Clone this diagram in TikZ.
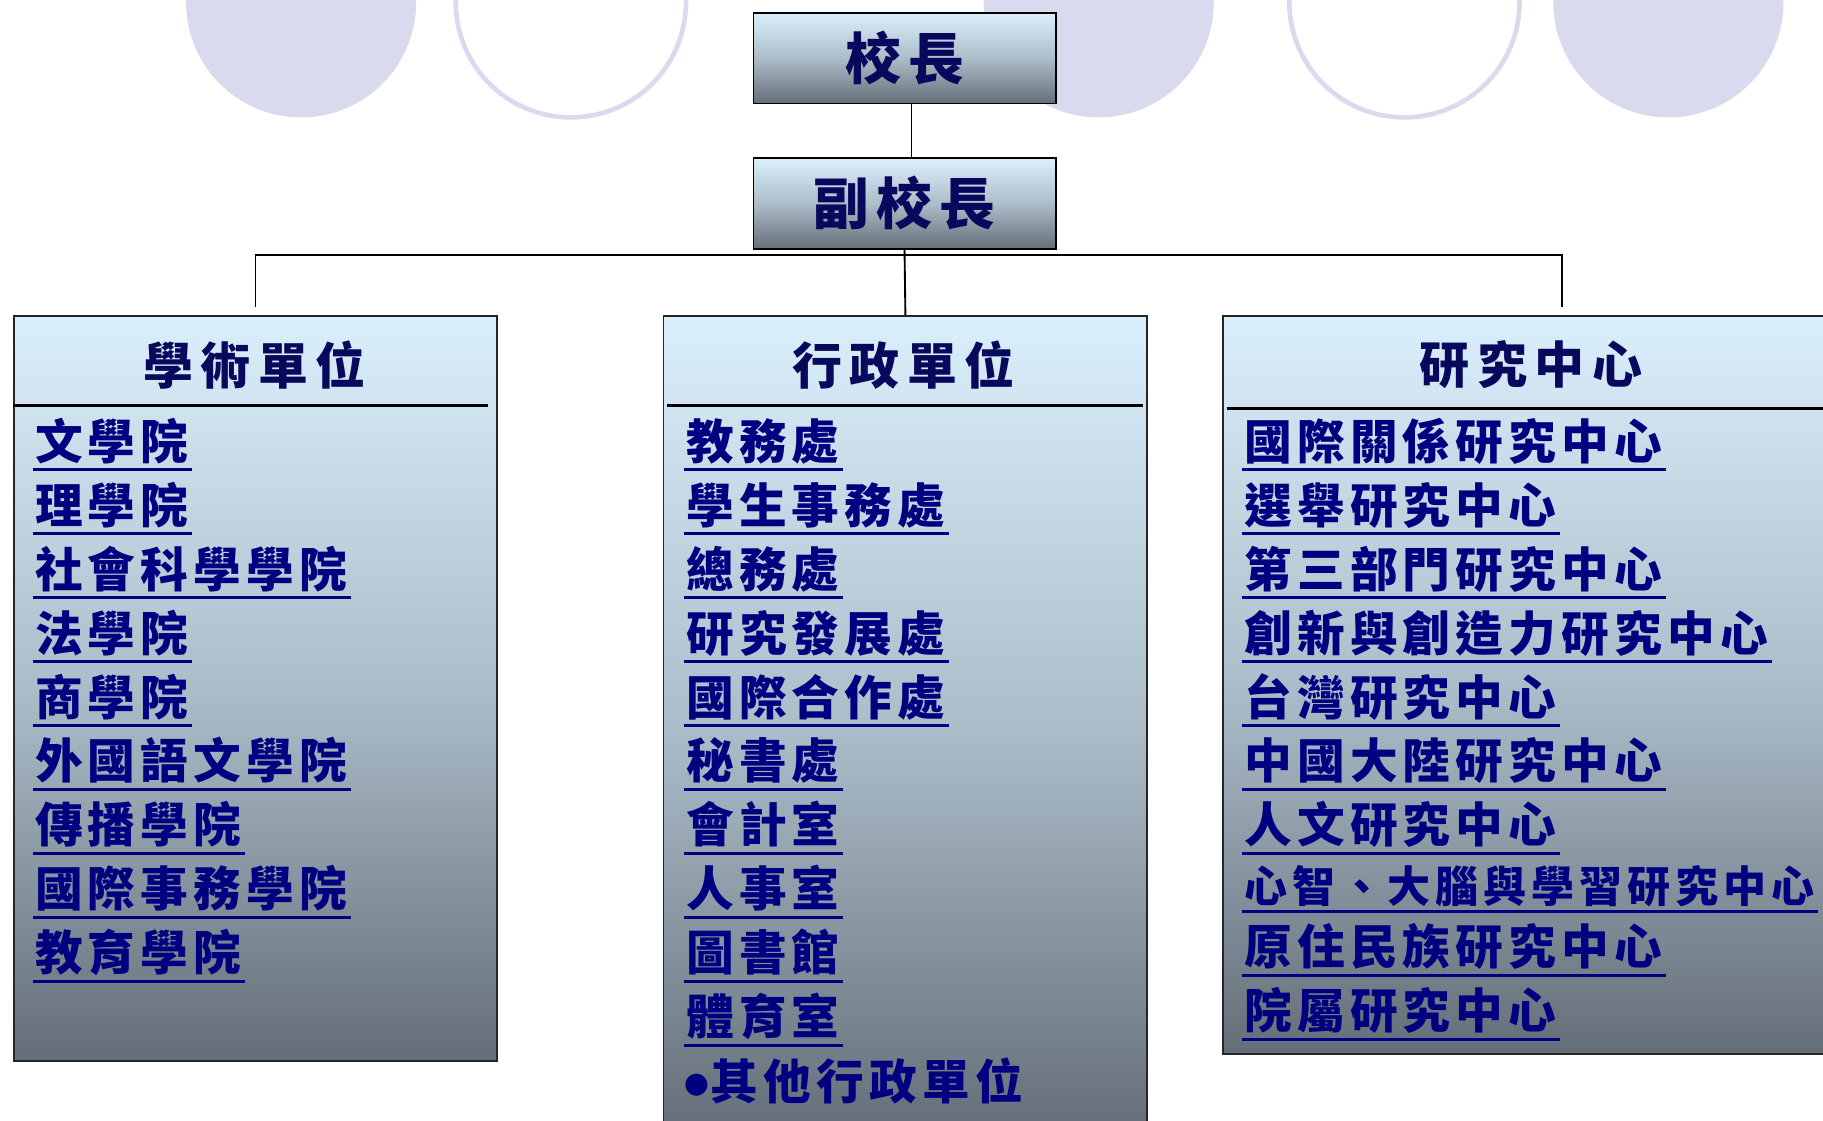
\documentclass[tikz,border=0pt]{standalone}
\usepackage{fontspec}
\newfontfamily\cjk{Noto Sans CJK TC}
\newfontfamily\lat{Liberation Sans}
\definecolor{navy}{RGB}{0,0,128}
\definecolor{deepnavy}{RGB}{8,8,92}
\definecolor{lav}{RGB}{218,218,238}
\definecolor{gtop}{RGB}{218,239,252}
\definecolor{gmid}{RGB}{172,189,201}
\definecolor{gbot}{RGB}{100,110,120}
\newdimen\mytrk
\def\spaced#1{\spacedA#1\relax}
\def\spacedA#1#2{#1\ifx#2\relax\else\hspace{\mytrk}\expandafter\spacedA\expandafter#2\fi}
\def\trkA{\mytrk=6pt\relax}
\def\trkB{\mytrk=6.5pt\relax}
\def\trkC{\mytrk=4.5pt\relax}
\def\trkD{\mytrk=4.2pt\relax}
\begin{document}
\begin{tikzpicture}[x=1pt,y=-1pt,
  pbox/.style={draw=black, line width=1.5pt, top color=gtop, bottom color=gbot, middle color=gmid,
    minimum width=260pt, minimum height=78pt, inner sep=0pt,
    font={\cjk\bfseries\fontsize{48}{48}\selectfont}, execute at begin node={\trkA}, text=deepnavy},
  panel/.style={draw=black!85, line width=1.5pt, top color=gtop, bottom color=gbot, middle color=gmid,
    inner sep=0pt, anchor=north west},
  head/.style={font={\cjk\bfseries\fontsize{43}{43}\selectfont}, execute at begin node={\trkB}, text=deepnavy, inner sep=0pt},
  item/.style={font={\cjk\bfseries\fontsize{41}{41}\selectfont}, execute at begin node={\trkC}, text=navy, inner sep=0pt, anchor=base west},
  smallitem/.style={font={\cjk\bfseries\fontsize{37}{37}\selectfont}, execute at begin node={\trkD}, text=navy, inner sep=0pt, anchor=base west},
  uline/.style={draw=navy, line width=2.6pt},
  sepline/.style={draw=black, line width=2.6pt},
  conn/.style={draw=black, line width=1.6pt},
  disk/.style={fill=lav},
  ring/.style={draw=lav, line width=4pt, fill=white}
]
\useasboundingbox (0,0) rectangle (1568,964);
\clip (0,0) rectangle (1568,964);
% decorative circles
\fill[disk] (259,2) circle (99);
\draw[ring] (491,2) circle (99);
\fill[disk] (945,2) circle (99);
\draw[ring] (1208,2) circle (99);
\fill[disk] (1435,2) circle (99);
% top boxes
\node[pbox] (pres) at (778,50) {\spaced{校長}};
\node[pbox] (vp) at (778,175) {\spaced{副校長}};
% panels
\node[panel, minimum width=416pt, minimum height=641pt] (acad) at (11,271) {};
\node[panel, minimum width=416pt, minimum height=705pt] (admin) at (570,271) {};
\node[panel, minimum width=584pt, minimum height=635pt] (res) at (1051,271) {};
% connectors
\coordinate (bus) at (778,219);
\draw[conn, line width=1.2pt] ([xshift=6pt]pres.south) -- ([xshift=6pt]vp.north);
\draw[conn] (vp.south) -- (admin.north);
\draw[conn] ([yshift=7pt]acad.north) |- (bus) -| ([yshift=7pt]res.north);
% headers
\node[head] (acadT) at (219,314) {\spaced{學術單位}};
\node[head] (adminT) at (777,314) {\spaced{行政單位}};
\node[head] (resT) at (1317,314) {\spaced{研究中心}};
\draw[sepline] (11,349) -- (420,349);
\draw[sepline] (574,349) -- (983,349);
\draw[sepline] (1055,351) -- (1568,351);
% academic units
\foreach \t [count=\i] in {文學院,理學院,社會科學學院,法學院,商學院,外國語文學院,傳播學院,國際事務學院,教育學院} {
  \node[item] (a\i) at (30,{395+55*(\i-1)}) {\expandafter\spaced\expandafter{\t}};
  \draw[uline] ([xshift=-2pt,yshift=-9pt]a\i.base west) -- ([xshift=3pt,yshift=-9pt]a\i.base east);
}
% administrative units
\foreach \t [count=\i] in {教務處,學生事務處,總務處,研究發展處,國際合作處,秘書處,會計室,人事室,圖書館,體育室} {
  \node[item] (b\i) at (590,{395+55*(\i-1)}) {\expandafter\spaced\expandafter{\t}};
  \draw[uline] ([xshift=-2pt,yshift=-9pt]b\i.base west) -- ([xshift=3pt,yshift=-9pt]b\i.base east);
}
\node[item] (bother) at (588,946) {{\lat\fontsize{66}{66}\selectfont\raisebox{-9pt}[0pt][0pt]{•}}\spaced{其他行政單位}};
% research centres
\foreach \t/\y [count=\i] in {國際關係研究中心/395,選舉研究中心/450,第三部門研究中心/505,創新與創造力研究中心/560,台灣研究中心/615,中國大陸研究中心/670,人文研究中心/725} {
  \node[item] (c\i) at (1070,\y) {\expandafter\spaced\expandafter{\t}};
  \draw[uline] ([xshift=-2pt,yshift=-9pt]c\i.base west) -- ([xshift=3pt,yshift=-9pt]c\i.base east);
}
\node[smallitem] (c8) at (1070,776) {\spaced{心智、大腦與學習研究中心}};
\draw[uline] ([xshift=-2pt,yshift=-8pt]c8.base west) -- ([xshift=3pt,yshift=-8pt]c8.base east);
\foreach \t/\y [count=\i from 9] in {原住民族研究中心/830,院屬研究中心/885} {
  \node[item] (c\i) at (1070,\y) {\expandafter\spaced\expandafter{\t}};
  \draw[uline] ([xshift=-2pt,yshift=-9pt]c\i.base west) -- ([xshift=3pt,yshift=-9pt]c\i.base east);
}
\end{tikzpicture}
\end{document}
